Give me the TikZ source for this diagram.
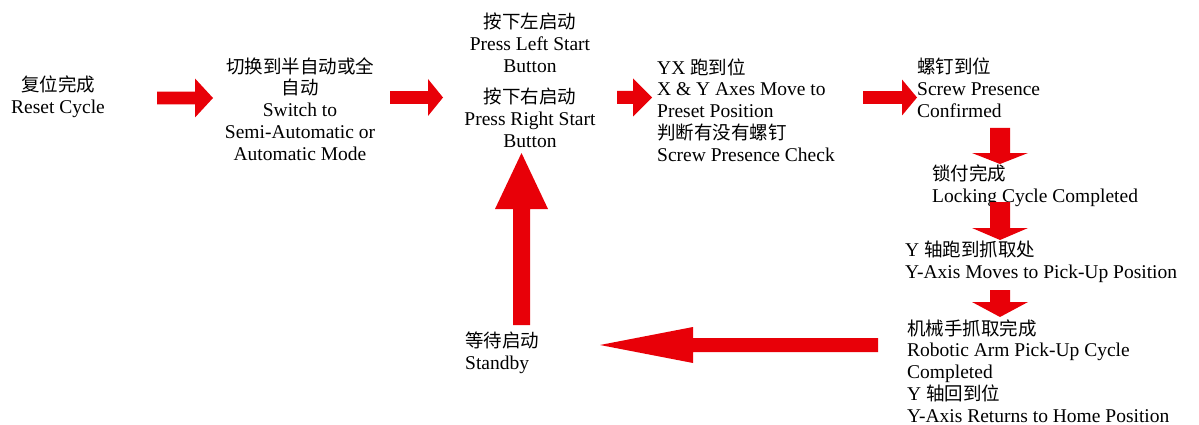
\documentclass[tikz,border=0pt]{standalone}
\usepackage{fontspec}
\setmainfont{Liberation Serif}
\newfontfamily\cjk{Noto Sans CJK SC}
\definecolor{arrowred}{RGB}{232,0,8}
\newcommand\zh[1]{{\cjk\fontsize{18.5}{21.8}\selectfont #1}}
\tikzset{
  txt/.style={inner sep=0pt, font=\fontsize{19.5}{21.8}\selectfont},
  blk/.style={fill=arrowred, draw=none},
}
% right arrow: x0, xhead, xtip, yc, shaft half, head half
\newcommand\rblk[6]{\fill[blk] (#1,#4-#5) -- (#2,#4-#5) -- (#2,#4-#6) -- (#3,#4) -- (#2,#4+#6) -- (#2,#4+#5) -- (#1,#4+#5) -- cycle;}
% vertical arrow: xc, y0, yhead, ytip, shaft half, head half
\newcommand\vblk[6]{\fill[blk] (#1-#5,#2) -- (#1-#5,#3) -- (#1-#6,#3) -- (#1,#4) -- (#1+#6,#3) -- (#1+#5,#3) -- (#1+#5,#2) -- cycle;}
\begin{document}
\begin{tikzpicture}[x=1pt,y=-1pt]
\useasboundingbox (0,0) rectangle (1199,425);
\node[txt, align=center] (reset) at (58,97) {\zh{复位完成}\\Reset Cycle};
\node[txt, align=center] (switch) at (300,109) {\zh{切换到半自动或全}\\\zh{自动}\\Switch to\\Semi-Automatic or\\Automatic Mode};
\node[txt, align=center] (left) at (530,43) {\zh{按下左启动}\\Press Left Start\\Button};
\node[txt, align=center] (right) at (530,118) {\zh{按下右启动}\\Press Right Start\\Button};
\node[txt, align=left, anchor=west] (yx) at (657,110) {YX \zh{跑到位}\\X \& Y Axes Move to\\Preset Position\\\zh{判断有没有螺钉}\\Screw Presence Check};
\node[txt, align=left, anchor=west] (screw) at (917,88) {\zh{螺钉到位}\\Screw Presence\\Confirmed};
\node[txt, align=left, anchor=west] (lock) at (932,186) {\zh{锁付完成}\\Locking Cycle Completed};
\node[txt, align=left, anchor=west] (ypick) at (905,262) {Y \zh{轴跑到抓取处}\\Y-Axis Moves to Pick-Up Position};
\node[txt, align=left, anchor=west] (robot) at (907,371) {\zh{机械手抓取完成}\\Robotic Arm Pick-Up Cycle\\Completed\\Y \zh{轴回到位}\\Y-Axis Returns to Home Position};
\node[txt, align=left, anchor=west] (standby) at (465,353) {\zh{等待启动}\\Standby};
% block arrows
\rblk{157}{195}{213}{98}{6.3}{19.5}
\rblk{390}{428}{443}{97.5}{6.3}{18.5}
\rblk{617}{633}{652}{97.5}{6.5}{19}
\rblk{863}{902}{917}{97.5}{6.3}{18}
\vblk{1000}{128}{153}{164}{10}{28}
\vblk{1000}{202}{228}{240}{10}{28}
\vblk{1000}{290}{302}{317}{10}{28}
% left arrow
\fill[blk] (878,338) -- (693,338) -- (693,327) -- (600,345) -- (693,363) -- (693,352) -- (878,352) -- cycle;
% up arrow
\vblk{521.5}{325}{209}{153}{8.5}{26.5}
\end{tikzpicture}
\end{document}
